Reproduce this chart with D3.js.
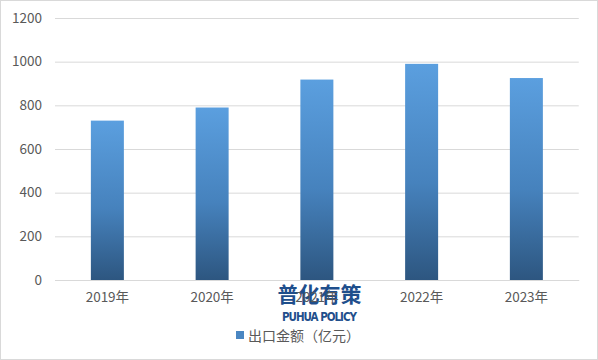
<!DOCTYPE html>
<html><head><meta charset="utf-8">
<script src="https://cdn.jsdelivr.net/npm/d3@7"></script>
<style>body{margin:0;background:#fff}svg{display:block}</style>
</head><body>
<script>
const categories = ["2019年","2020年","2021年","2022年","2023年"];
const values = [730, 790, 918, 990, 925];
const yTicks = [0,200,400,600,800,1000,1200];
const seriesName = "出口金额（亿元）";

const W=598,H=360;
const svg=d3.select("body").append("svg").attr("width",W).attr("height",H);
const font="'Microsoft YaHei','Noto Sans CJK SC','DejaVu Sans',sans-serif";
svg.append("rect").attr("x",0.5).attr("y",0.5).attr("width",W-1).attr("height",H-1)
  .attr("fill","#fff").attr("stroke","#d9d9d9");

const defs=svg.append("defs");
const g=defs.append("linearGradient").attr("id","bg").attr("x1",0).attr("y1",0).attr("x2",0).attr("y2",1);
g.append("stop").attr("offset","0%").attr("stop-color","#5b9fdf");
g.append("stop").attr("offset","55%").attr("stop-color","#4682bd");
g.append("stop").attr("offset","100%").attr("stop-color","#2d5680");

const x=d3.scaleBand().domain(categories).range([55,578.75]).paddingInner(0.685).paddingOuter(0.3425);
const y=d3.scaleLinear().domain([0,1200]).range([280,18]);

const yAxis=svg.append("g").attr("transform","translate(55,0)")
  .call(d3.axisLeft(y).tickValues(yTicks).tickFormat(d3.format("d")).tickSize(-523.75).tickPadding(13));
yAxis.select(".domain").remove();
yAxis.selectAll(".tick line").attr("stroke","#d9d9d9").attr("stroke-width",1);
yAxis.selectAll(".tick text").attr("fill","#595959").style("font-family",font).style("font-size","13.5px");

svg.append("g").selectAll("rect").data(values).join("rect")
  .attr("x",(d,i)=>x(categories[i])).attr("width",x.bandwidth())
  .attr("y",d=>y(d)).attr("height",d=>y(0)-y(d)).attr("fill","url(#bg)");

// watermark
svg.append("text").attr("x",319.5).attr("y",302).attr("text-anchor","middle")
  .attr("fill","#1f4f8c").style("font-family",font).style("font-weight","bold").style("font-size","21px")
  .text("普化有策");
svg.append("text").attr("x",319.5).attr("y",321).attr("text-anchor","middle")
  .attr("fill","#1f4f8c").style("font-family","'Liberation Sans Narrow','DejaVu Sans Condensed',sans-serif").style("font-weight","bold").style("font-size","11.5px")
  .attr("textLength",75).text("PUHUA POLICY");

const xAxis=svg.append("g").attr("transform","translate(0,280)")
  .call(d3.axisBottom(x).tickSize(0).tickPadding(12));
xAxis.select(".domain").attr("stroke","#d9d9d9");
xAxis.selectAll(".tick text").attr("fill","#595959").style("font-family",font).style("font-size","13.5px");

// legend
const leg=svg.append("g");
leg.append("rect").attr("x",236).attr("y",331).attr("width",8).attr("height",8).attr("fill","#4a86c2");
leg.append("text").attr("x",248).attr("y",340.5).attr("fill","#595959")
  .style("font-family",font).style("font-size","14px").text(seriesName);
</script>
</body></html>
